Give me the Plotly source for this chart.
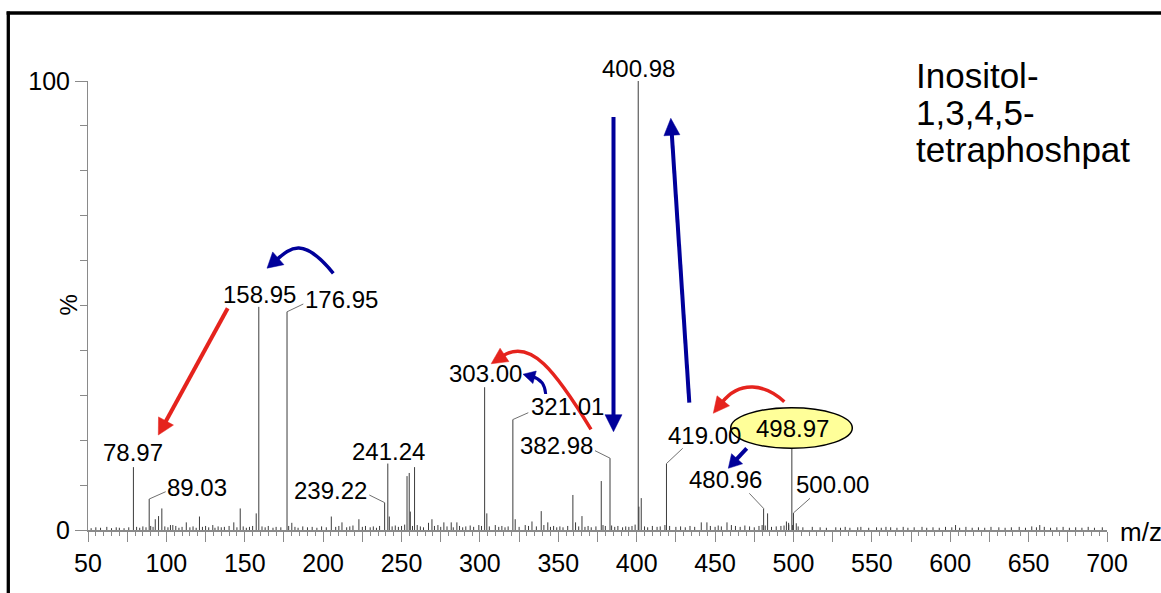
import plotly.graph_objects as go

# ---------------- data ----------------
# labelled peaks (m/z, relative intensity %)
peak_mz = [78.97, 89.03, 158.95, 176.95, 239.22, 241.24, 303.00, 321.01,
           382.98, 400.98, 419.00, 480.96, 498.97, 500.00]
peak_int = [14.0, 6.9, 49.7, 48.6, 6.1, 14.8, 31.8, 24.6,
            16.0, 100.0, 14.8, 4.8, 19.4, 3.8]

# unlabelled peaks
minor_mz = [92.9, 95.0, 97.1, 102.6, 104.1, 112.7, 121.1, 129.6, 143.0, 147.1,
            157.3, 180.0, 205.2, 212.0, 222.8, 242.2, 253.5, 254.9, 255.6, 258.3,
            267.2, 269.4, 273.2, 277.0, 281.7, 285.3, 293.8, 299.3, 304.4, 309.8,
            322.5, 328.9, 333.2, 339.1, 340.8, 343.3, 359.3, 361.0, 365.1, 377.4,
            378.5, 401.4, 402.9, 441.2, 444.8, 457.6, 460.4, 483.5, 495.5, 496.9,
            501.8, 603.4, 657.1]
minor_int = [2.4, 3.1, 4.8, 1.1, 1.1, 1.7, 3.0, 1.1, 1.7, 4.8,
             3.7, 1.6, 3.0, 1.7, 2.4, 3.0, 12.0, 12.7, 4.1, 14.0,
             1.6, 2.4, 1.1, 1.7, 1.7, 1.7, 1.0, 1.1, 3.7, 1.1,
             2.4, 1.1, 1.9, 4.2, 1.1, 1.7, 7.8, 1.7, 3.1, 10.9,
             1.1, 5.2, 7.1, 1.7, 1.7, 1.7, 1.1, 3.7, 1.9, 1.6,
             1.5, 1.1, 1.1]

# baseline noise peaks (m/z, %)
noise = [
    (52, 0.4), (55, 0.6), (58, 0.5), (62, 0.7), (65, 0.4), (68, 0.6), (70, 0.5), (73, 0.4),
    (76, 0.6), (81, 0.7), (83, 0.5), (85, 0.8), (87, 0.6), (90, 0.9), (91.5, 0.7), (99, 0.8),
    (101, 0.6), (106, 0.9), (108, 0.5), (110, 0.7), (115, 0.6), (117, 0.8), (119, 0.5), (123, 0.7),
    (125, 0.9), (127, 0.6), (131, 0.5), (133, 0.8), (135, 0.6), (137, 0.7), (140, 0.9), (145, 0.6),
    (149, 0.8), (151, 0.5), (153, 0.7), (155, 0.9), (161, 0.8), (163, 0.6), (165, 0.9), (168, 0.5),
    (170, 0.7), (173, 0.6), (178, 0.9), (182, 0.7), (184, 0.5), (187, 0.8), (190, 0.6), (193, 0.7),
    (196, 0.5), (199, 0.8), (202, 0.6), (208, 0.7), (210, 0.9), (215, 0.6), (217, 0.8), (219, 1.0),
    (225, 0.7), (227, 0.9), (230, 0.6), (232, 0.8), (234, 0.5), (236, 0.9), (244, 0.8), (246, 1.0),
    (248, 0.7), (250, 0.9), (252, 1.2), (257, 0.9), (260, 1.1), (262, 0.8), (264, 0.6), (271, 0.9),
    (275, 0.7), (279, 0.8), (283, 0.6), (287, 0.9), (289, 0.6), (291, 0.8), (296, 0.7), (301, 0.9),
    (306, 0.8), (312, 0.7), (314, 0.9), (316, 0.6), (318, 0.8), (325, 0.7), (331, 0.9), (336, 0.8),
    (345, 0.7), (347, 0.9), (349, 0.6), (351, 0.8), (353, 0.6), (356, 0.9), (363, 0.8), (367, 0.7),
    (369, 0.9), (371, 0.6), (374, 0.8), (380, 0.9), (384, 1.0), (386, 0.7), (388, 0.9), (391, 0.6),
    (393, 0.8), (395, 0.7), (397, 0.9), (399, 1.2), (405, 0.8), (407, 0.6), (410, 0.9), (413, 0.7),
    (415, 0.8), (418, 1.1), (421, 0.9), (425, 0.7), (428, 0.8), (431, 0.6), (434, 0.9), (437, 0.7),
    (447, 0.9), (450, 0.7), (452, 1.0), (454, 0.8), (463, 0.9), (466, 0.7), (469, 1.0), (472, 0.8),
    (475, 0.6), (478, 0.9), (480, 1.1), (482, 1.0), (486, 0.7), (489, 0.8), (492, 0.9), (494, 1.0),
    (497, 1.2), (499.5, 1.1), (503, 0.8), (506, 0.6), (512, 0.7), (517, 0.6), (521, 0.5), (527, 0.6),
    (530, 0.5), (533, 0.7), (536, 0.5), (541, 0.6), (543, 0.7), (548, 0.5), (553, 0.6), (556, 0.5),
    (559, 0.7), (562, 0.6), (566, 0.5), (570, 0.7), (573, 0.5), (577, 0.6), (582, 0.7), (585, 0.5),
    (589, 0.6), (593, 0.5), (597, 0.7), (601, 0.6), (606, 0.5), (610, 0.7), (614, 0.5), (618, 0.6),
    (622, 0.5), (626, 0.7), (631, 0.6), (635, 0.5), (639, 0.6), (644, 0.7), (648, 0.5), (652, 0.8),
    (655, 0.6), (660, 0.7), (664, 0.5), (668, 0.6), (672, 0.7), (676, 0.5), (680, 0.6), (684, 0.5),
    (688, 0.7), (692, 0.5), (697, 0.6),
]
noise_mz = [p[0] for p in noise]
noise_int = [p[1] for p in noise]

x_tick_vals = list(range(50, 701, 25))
x_tick_text = [str(v) if v % 50 == 0 else "" for v in x_tick_vals]
y_tick_vals = [0, 100]
y_tick_text = ["0", "100"]

title_lines = ["Inositol-", "1,3,4,5-", "tetraphoshpat"]

# ---------------- layout / style ----------------
W, H = 1161, 593
ML, MR, MT, MB = 88, 54, 81, 63
X_RANGE = [50, 700]
Y_RANGE = [0, 100]
PW, PH = W - ML - MR, H - MT - MB
SX = PW / (X_RANGE[1] - X_RANGE[0])
SY = PH / (Y_RANGE[1] - Y_RANGE[0])
FONT = "Liberation Sans, Arial, sans-serif"
RED = "#E5231D"
BLUE = "#00009A"
AXC = "#8a8a8a"


def dx(px):
    return X_RANGE[0] + (px - ML) / SX


def dy(py):
    return (H - MB - py) / SY


def paper_x(px):
    return (px - ML) / PW


def paper_y(py):
    return (H - MB - py) / PH


# label positions (pixel centres) for each labelled peak
label_px = {78.97: (133, 452.5), 89.03: (196.7, 487.5), 158.95: (259.7, 294.7),
            176.95: (341.7, 299.5), 239.22: (330.8, 490), 241.24: (388, 451.7),
            303.00: (485.5, 373.3), 321.01: (567, 406.7), 382.98: (556.7, 445),
            400.98: (638, 68), 419.00: (704.5, 435), 480.96: (725.8, 479),
            498.97: (792.2, 428), 500.00: (832, 484.7)}
# leader line end points (pixel)
leader_px = {89.03: (165.7, 491.7), 176.95: (303.3, 304), 239.22: (369.3, 495),
             321.01: (528.3, 412.7), 382.98: (595, 450.7), 419.00: (682.7, 448.3),
             480.96: (749.3, 493.3), 500.00: (810, 498.3)}

fig = go.Figure()

# sticks
sx, sy = [], []
for m, h in list(zip(noise_mz, noise_int)) + list(zip(minor_mz, minor_int)) + list(zip(peak_mz, peak_int)):
    sx += [m, m, None]
    sy += [0, h, None]
fig.add_trace(go.Scatter(x=sx, y=sy, mode="lines", line=dict(color="#3c3c3c", width=1),
                         hoverinfo="skip"))

# leader lines
lx, ly = [], []
for m, h in zip(peak_mz, peak_int):
    if m in leader_px:
        ex, ey = leader_px[m]
        lx += [m, dx(ex), None]
        ly += [h, dy(ey), None]
fig.add_trace(go.Scatter(x=lx, y=ly, mode="lines", line=dict(color="#707070", width=1),
                         hoverinfo="skip"))

shapes = []

# yellow ellipse around precursor
shapes.append(dict(type="circle", xref="x", yref="y",
                   x0=dx(730.7), x1=dx(852.3), y0=dy(448.3), y1=dy(407.7),
                   fillcolor="#FFFF99", line=dict(color="black", width=1.5), layer="above"))


def unit(a, b):
    vx, vy = b[0] - a[0], b[1] - a[1]
    n = (vx * vx + vy * vy) ** 0.5
    return vx / n, vy / n


def P(p):
    return f"{dx(p[0]):.4f},{dy(p[1]):.4f}"


def add_arrow(kind, pts, color, w, hl, hw):
    if kind == "line":
        s, tip = pts
        ux, uy = unit(s, tip)
        base = (tip[0] - hl * ux, tip[1] - hl * uy)
        end = (base[0] + 2 * ux, base[1] + 2 * uy)
        path = f"M{P(s)} L{P(end)}"
    else:
        s, c1, c2, base = pts
        ux, uy = unit(c2, base)
        tip = (base[0] + hl * ux, base[1] + hl * uy)
        end = (base[0] + 2 * ux, base[1] + 2 * uy)
        path = f"M{P(s)} C{P(c1)} {P(c2)} {P(end)}"
    shapes.append(dict(type="path", xref="x", yref="y", path=path,
                       line=dict(color=color, width=w), layer="above"))
    nx, ny = -uy, ux
    a = (base[0] + nx * hw / 2, base[1] + ny * hw / 2)
    b = (base[0] - nx * hw / 2, base[1] - ny * hw / 2)
    shapes.append(dict(type="path", xref="x", yref="y",
                       path=f"M{P(tip)} L{P(a)} L{P(b)} Z",
                       fillcolor=color, line=dict(color=color, width=0.5), layer="above"))


arrows = [
    ("line", [(227.7, 308.3), (158.3, 435.0)], RED, 4, 16, 17),
    ("curve", [(333.3, 273.3), (303, 236), (290, 248), (278.3, 258.3)], BLUE, 3.5, 15, 17),
    ("curve", [(591, 429.3), (555, 370), (530, 338), (504.5, 354.9)], RED, 3.5, 16, 16),
    ("curve", [(545.7, 394), (545, 385), (541, 379), (534.6, 377.3)], BLUE, 3, 12, 13),
    ("line", [(613.5, 117), (613.5, 431.7)], BLUE, 4, 17, 17),
    ("line", [(689.3, 402.7), (670.8, 118.3)], BLUE, 4, 17, 16),
    ("curve", [(784.3, 401.7), (765, 384), (740, 380), (723.3, 400.8)], RED, 3.5, 16, 16),
    ("line", [(746.7, 448.3), (728.3, 468.3)], BLUE, 4, 13, 15),
]
for a in arrows:
    add_arrow(*a)

# outer frame (only top and left edges fall inside the picture)
shapes.append(dict(type="line", xref="paper", yref="paper",
                   x0=paper_x(6.6), x1=paper_x(1161), y0=paper_y(13), y1=paper_y(13),
                   line=dict(color="black", width=3.3), layer="above"))
shapes.append(dict(type="line", xref="paper", yref="paper",
                   x0=paper_x(8.3), x1=paper_x(8.3), y0=paper_y(11.4), y1=paper_y(593),
                   line=dict(color="black", width=3.3), layer="above"))

annotations = []
for m in peak_mz:
    px, py = label_px[m]
    annotations.append(dict(x=paper_x(px), y=paper_y(py), xref="paper", yref="paper",
                            text=f"{m:.2f}", showarrow=False,
                            xanchor="center", yanchor="middle",
                            font=dict(family=FONT, size=24, color="black")))

for line, ypx in zip(title_lines, [75, 112, 149]):
    annotations.append(dict(x=paper_x(914), y=paper_y(ypx), xref="paper", yref="paper",
                            text=line, showarrow=False, xanchor="left", yanchor="middle",
                            font=dict(family=FONT, size=35, color="black")))

annotations.append(dict(x=paper_x(1118), y=paper_y(532), xref="paper", yref="paper",
                        text="m/z", showarrow=False, xanchor="left", yanchor="middle",
                        font=dict(family=FONT, size=26, color="black")))
annotations.append(dict(x=paper_x(67.5), y=paper_y(305), xref="paper", yref="paper",
                        text="%", showarrow=False, textangle=-90,
                        xanchor="center", yanchor="middle",
                        font=dict(family=FONT, size=24, color="black")))

fig.update_layout(
    width=W, height=H,
    margin=dict(l=ML, r=MR, t=MT, b=MB),
    plot_bgcolor="white", paper_bgcolor="white",
    showlegend=False,
    shapes=shapes, annotations=annotations,
    xaxis=dict(range=X_RANGE, showgrid=False, zeroline=False, showline=True,
               linecolor=AXC, linewidth=2, ticks="outside", ticklen=10, tickwidth=1,
               tickcolor=AXC, tickmode="array", tickvals=x_tick_vals, ticktext=x_tick_text,
               tickfont=dict(family=FONT, size=25, color="black"),
               minor=dict(tickmode="linear", tick0=50, dtick=5, ticks="outside",
                          ticklen=4, tickcolor=AXC, tickwidth=1)),
    yaxis=dict(range=Y_RANGE, showgrid=False, zeroline=False, showline=True,
               linecolor=AXC, linewidth=1, ticks="outside", ticklen=12, tickwidth=1,
               tickcolor=AXC, tickmode="array", tickvals=y_tick_vals, ticktext=y_tick_text,
               tickfont=dict(family=FONT, size=25, color="black"),
               minor=dict(tickmode="linear", tick0=0, dtick=10, ticks="outside",
                          ticklen=7, tickcolor=AXC, tickwidth=1)),
)

fig.write_html("out.html", config={"displayModeBar": False},
               post_script="document.body.style.margin='0px';document.body.style.padding='0px';")
